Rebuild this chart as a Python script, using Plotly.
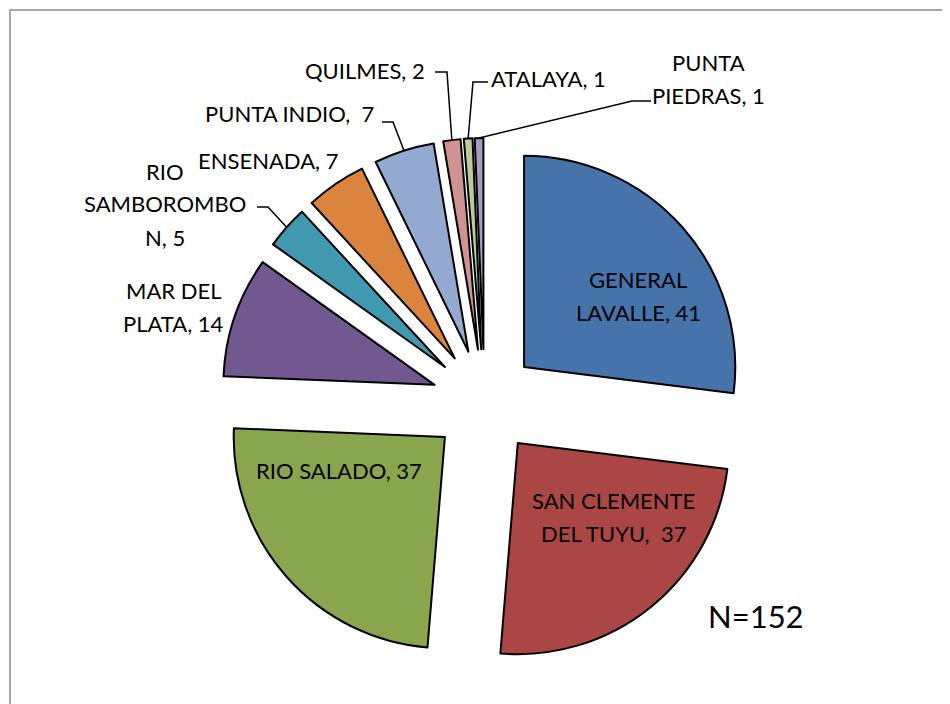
import math
import plotly.graph_objects as go

# ---------------- data ----------------
categories = ["GENERAL LAVALLE", "SAN CLEMENTE DEL TUYU", "RIO SALADO", "MAR DEL PLATA",
              "RIO SAMBOROMBON", "ENSENADA", "PUNTA INDIO", "QUILMES", "ATALAYA",
              "PUNTA PIEDRAS"]
values = [41, 37, 37, 14, 5, 7, 7, 2, 1, 1]
label_lines = [
    ["GENERAL", "LAVALLE, {v}"],
    ["SAN CLEMENTE", "DEL TUYU,  {v}"],
    ["RIO SALADO, {v}"],
    ["MAR DEL", "PLATA, {v}"],
    ["RIO", "SAMBOROMBO", "N, {v}"],
    ["ENSENADA, {v}"],
    ["PUNTA INDIO,  {v}"],
    ["QUILMES, {v}"],
    ["ATALAYA, {v}"],
    ["PUNTA", "PIEDRAS, {v}"],
]
total_label = "N={n}"

# ---------------- style / layout ----------------
colors = ["#4673AA", "#AA4744", "#89A64F", "#71598F", "#4199B0", "#DB843E",
          "#93A9CF", "#D19392", "#B9CD96", "#A99BBD"]
OFF = 8                    # page body margin offset
W, H = 942, 696
PULL = 0.25
FONT = "Lato, Carlito, 'Open Sans', sans-serif"
FS = 22
LINE_GAP = 33

# desired pie centre / outer extent in page pixels
PIE_CX, PIE_CY, PIE_HALF = 484.5, 402, 264


def px(x):
    return (x - OFF) / W


def py(y):
    return 1 - (y - OFF) / H


DOM_X = [px(PIE_CX - PIE_HALF), px(PIE_CX + PIE_HALF)]
DOM_Y = [py(PIE_CY + PIE_HALF), py(PIE_CY - PIE_HALF)]

# page-pixel centre of first text line for each label
label_pos = [(638, 279), (613, 500), (338.5, 470), (173.5, 290), (165, 171),
             (268, 160), (289, 113.5), (364.5, 70.5), (548, 78.5), (708, 62.5)]
# leader lines: index -> (start point near label, elbow point)
leaders = {
    6: ((382, 122), (393, 122)),
    4: ((257, 207), (268, 207)),
    7: ((435, 72), (447, 72)),
    8: ((488, 82), (473, 82)),
    9: ((651, 101), (632, 101)),
}
total_pos = (756, 616)

fig = go.Figure(go.Pie(
    labels=categories,
    values=values,
    sort=False,
    direction="clockwise",
    rotation=0,
    pull=[PULL] * len(values),
    marker=dict(colors=colors, line=dict(color="#000000", width=2)),
    textinfo="none",
    hoverinfo="label+value",
    showlegend=False,
    domain=dict(x=DOM_X, y=DOM_Y),
))

annotations = []
for i, lines in enumerate(label_lines):
    x0, y0 = label_pos[i]
    for k, ln in enumerate(lines):
        annotations.append(dict(
            x=px(x0), y=py(y0 + k * LINE_GAP), xref="paper", yref="paper",
            text=ln.format(v=values[i]), showarrow=False,
            xanchor="center", yanchor="middle",
            font=dict(family=FONT, size=FS, color="#000000"),
        ))
annotations.append(dict(
    x=px(total_pos[0]), y=py(total_pos[1]), xref="paper", yref="paper",
    text=total_label.format(n=sum(values)), showarrow=False,
    xanchor="center", yanchor="middle",
    font=dict(family=FONT, size=31, color="#000000"),
))

# pie geometry derived from the domain, used to attach leader lines to slices
cx = OFF + (DOM_X[0] + DOM_X[1]) / 2 * W
cy = OFF + (1 - (DOM_Y[0] + DOM_Y[1]) / 2) * H
r = min((DOM_X[1] - DOM_X[0]) * W, (DOM_Y[1] - DOM_Y[0]) * H) / 2 / (1 + PULL)
R = r * (1 + PULL)
total = sum(values)

shapes = [dict(type="rect", xref="paper", yref="paper",
               x0=px(10), x1=1.02, y0=-0.02, y1=py(10),
               line=dict(color="#8A8A8A", width=1.5), fillcolor="rgba(0,0,0,0)")]

cum = 0
for i, v in enumerate(values):
    mid = (cum + v / 2) / total * 2 * math.pi
    cum += v
    if i in leaders:
        (sx, sy), (ex, ey) = leaders[i]
        tx = cx + R * math.sin(mid)
        ty = cy - R * math.cos(mid)
        path = "M {} {} L {} {} L {} {}".format(px(sx), py(sy), px(ex), py(ey), px(tx), py(ty))
        shapes.append(dict(type="path", xref="paper", yref="paper", path=path,
                           line=dict(color="#000000", width=1.5)))

fig.update_layout(
    width=W, height=H,
    margin=dict(l=0, r=0, t=0, b=0),
    paper_bgcolor="#FFFFFF",
    plot_bgcolor="#FFFFFF",
    annotations=annotations,
    shapes=shapes,
)

fig.write_html("out.html")
